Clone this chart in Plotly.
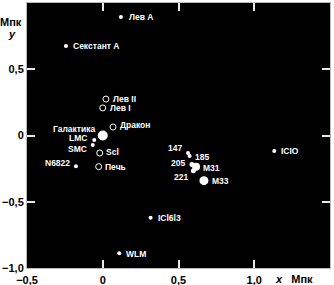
import plotly.graph_objects as go

names = ["Лев А", "Секстант А", "Лев II", "Лев I", "Дракон", "Галактика", "LMC", "SMC",
         "Scl", "Печь", "N6822", "ICl6l3", "WLM", "ICIO", "147", "185", "205", "M31", "221", "M33"]
x_mpc = [0.12, -0.243, 0.021, 0.0, 0.068, 0.0, -0.056, -0.066,
         -0.02, -0.027, -0.177, 0.316, 0.109, 1.132, 0.563, 0.573, 0.589, 0.616, 0.598, 0.668]
y_mpc = [0.894, 0.675, 0.275, 0.208, 0.064, 0.0, -0.034, -0.072,
         -0.132, -0.235, -0.232, -0.62, -0.889, -0.117, -0.132, -0.155, -0.218, -0.235, -0.266, -0.341]
open_marker = [False, False, True, True, True, False, False, False,
               True, True, False, False, False, False, False, False, False, False, False, False]
marker_size = [4, 4, 6, 6, 6, 10, 4, 4, 6, 6, 4, 4, 4, 4, 4, 4, 5, 8, 5, 9]
# label placement: (anchor side, x offset px, y offset px)
label_side = ["left", "left", "left", "left", "left", "right", "right", "right",
              "left", "left", "right", "left", "left", "left", "right",
              "left", "right", "left", "right", "left"]
label_dx = [6, 5, 5, 5, 5, -6, -5, -4, 4, 4, -4, 5, 5, 5, -4, 3, -5, 5, -3, 6]
label_dy = [0, 0, 0, 0, 2, 7, 2, -4, 1, 0, 3, 0, -1, 0, 5, -1, 1, -1, -6, 0]

tick_vals_x = [-0.5, 0, 0.5, 1.0, 1.5]
tick_text_x = ["−0,5", "0", "0,5", "1,0", "1,5"]
tick_vals_y = [-1.0, -0.5, 0, 0.5, 1.0]
tick_text_y = ["−1,0", "−0,5", "0", "0,5", "1,0"]

fig = go.Figure()
fig.add_trace(go.Scatter(
    x=x_mpc, y=y_mpc, mode="markers",
    marker=dict(size=marker_size, opacity=1,
                color=["black" if o else "white" for o in open_marker],
                line=dict(color="white", width=[1 if o else 0 for o in open_marker])),
    cliponaxis=False, hoverinfo="skip", showlegend=False))

for nm, xv, yv, side, dx, dy in zip(names, x_mpc, y_mpc, label_side, label_dx, label_dy):
    fig.add_annotation(x=xv, y=yv, text=nm, showarrow=False, xanchor=side, yanchor="middle",
                       xshift=dx, yshift=dy,
                       font=dict(family="Liberation Sans", size=8.5, color="white", weight="bold"))

axis_common = dict(showgrid=False, zeroline=False, showline=True, linecolor="#bbbbbb",
                   linewidth=1, mirror="ticks", ticks="inside", ticklen=8,
                   tickcolor="#e8e8e8", tickwidth=2, automargin=False,
                   tickfont=dict(family="Liberation Sans", size=11, color="black", weight="bold"))

fig.update_xaxes(range=[-0.5, 1.5], tickvals=tick_vals_x, ticktext=tick_text_x,
                 ticklabelstandoff=2, **axis_common)
fig.update_yaxes(range=[-1.0, 1.0], tickvals=tick_vals_y, ticktext=tick_text_y,
                 **axis_common)

lab_font = dict(family="Liberation Sans", size=11, color="black", weight="bold")
fig.add_annotation(text="<i>x</i>   Мпк", xref="paper", yref="paper", x=0.88, y=0,
                   yshift=-11, showarrow=False, xanchor="center", yanchor="middle",
                   font=lab_font)
fig.add_annotation(text="Мпк", xref="paper", yref="paper", x=0, y=0.928,
                   xshift=-16, showarrow=False, xanchor="center", yanchor="middle",
                   font=lab_font)
fig.add_annotation(text="<i>y</i>", xref="paper", yref="paper", x=0, y=0.882,
                   xshift=-15, showarrow=False, xanchor="center", yanchor="middle",
                   font=lab_font)

fig.update_layout(width=334, height=285, margin=dict(l=27, r=4, t=3, b=17),
                  paper_bgcolor="white", plot_bgcolor="black")
fig.write_html("out.html")
